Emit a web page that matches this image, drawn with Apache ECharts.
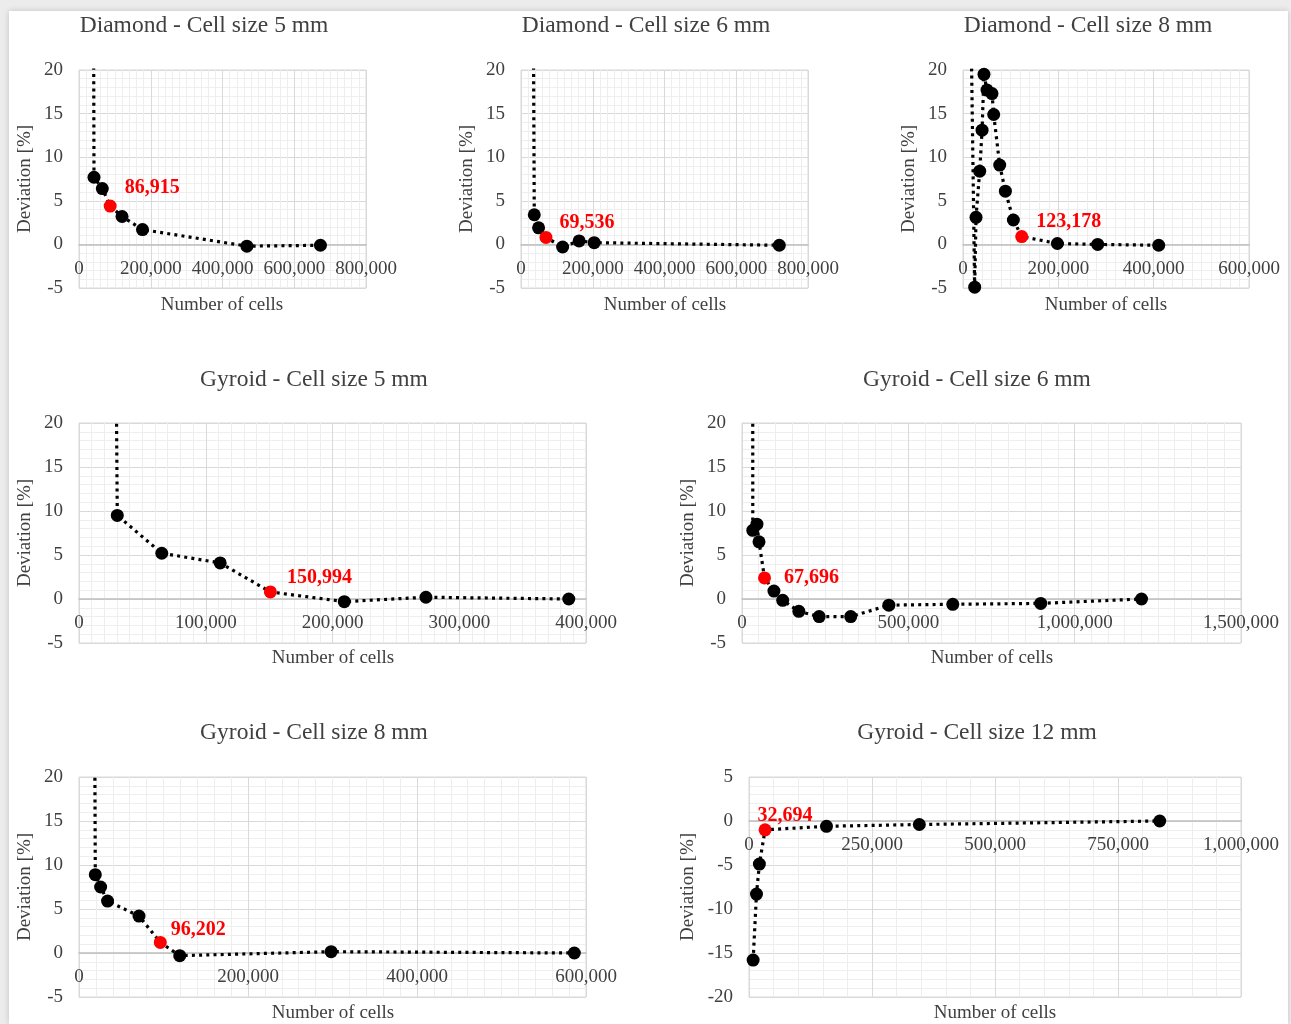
<!DOCTYPE html>
<html>
<head>
<meta charset="utf-8">
<title>Deviation vs number of cells</title>
<script src="https://cdn.jsdelivr.net/npm/echarts@6/dist/echarts.min.js"></script>
<style>
    html, body {
        margin: 0;
        padding: 0;
        background: #ececec;
    }
    .card {
        position: absolute;
        left: 9px;
        top: 11px;
        width: 1279px;
        height: 1013px;
        background: #fff;
        box-shadow: 0 0 6px rgba(0, 0, 0, 0.18);
    }
    #chart {
        position: absolute;
        left: 0;
        top: 0;
        width: 1291px;
        height: 1024px;
    }
</style>
</head>
<body>
<div class="card"></div>
<div id="chart"></div>
<script>
// values: number of cells / deviation [%]
// the first point of most series lies above the plotted range (clipped, only its line shows)
var diamond5Cells = [38500, 41800, 65000, 86915, 120000, 177000, 468000, 673000];
var diamond5Dev = [60, 7.7, 6.4, 4.4, 3.2, 1.7, -0.2, -0.1];
var diamond5Pick = 3;

var diamond6Cells = [30500, 37000, 49000, 69536, 116000, 162000, 204000, 720000];
var diamond6Dev = [60, 3.4, 1.9, 0.8, -0.3, 0.4, 0.2, -0.1];
var diamond6Pick = 3;

var diamond8Cells = [13000, 24500, 27300, 35000, 40000, 44000, 50400, 60800, 64400, 77000, 88900, 105700, 123178, 198000, 282600, 410600];
var diamond8Dev = [40, -4.9, 3.1, 8.4, 13.1, 19.5, 17.7, 17.3, 14.9, 9.1, 6.1, 2.8, 0.9, 0.1, 0, -0.1];
var diamond8Pick = 12;

var gyroid5Cells = [27500, 30200, 65300, 111400, 150994, 209300, 273700, 386400];
var gyroid5Dev = [60, 9.5, 5.2, 4.1, 0.8, -0.3, 0.2, 0];
var gyroid5Pick = 4;

var gyroid6Cells = [32000, 32400, 44900, 51100, 67696, 96000, 122300, 170900, 232000, 326800, 441500, 633600, 898000, 1201000];
var gyroid6Dev = [60, 7.8, 8.5, 6.5, 2.4, 0.9, -0.15, -1.4, -2.0, -2.0, -0.7, -0.6, -0.5, 0];
var gyroid6Pick = 4;

var gyroid8Cells = [17000, 19300, 25600, 33800, 71000, 96202, 119200, 298400, 586200];
var gyroid8Dev = [60, 8.9, 7.5, 5.9, 4.2, 1.2, -0.3, 0.15, 0];
var gyroid8Pick = 5;

var gyroid12Cells = [8400, 15200, 21100, 32694, 157500, 346200, 834800];
var gyroid12Dev = [-15.8, -8.3, -4.9, -1.0, -0.6, -0.4, 0];
var gyroid12Pick = 3;

var titles = [
    'Diamond - Cell size 5 mm', 'Diamond - Cell size 6 mm', 'Diamond - Cell size 8 mm',
    'Gyroid - Cell size 5 mm', 'Gyroid - Cell size 6 mm',
    'Gyroid - Cell size 8 mm', 'Gyroid - Cell size 12 mm'
];
var xName = 'Number of cells';
var yName = 'Deviation [%]';

// layout of each panel: plot box, axis ranges, label offset of the red point
var panels = [
    { cells: diamond5Cells, dev: diamond5Dev, pick: diamond5Pick, box: [79, 70, 287, 218], xMax: 800000, xStep: 200000, xMinor: 10, yMin: -5, yMax: 20, titleX: 204, titleY: 26, xNameX: 222, xNameY: 305, yNameX: 25, labelOffset: [42, -18] },
    { cells: diamond6Cells, dev: diamond6Dev, pick: diamond6Pick, box: [521, 70, 287, 218], xMax: 800000, xStep: 200000, xMinor: 10, yMin: -5, yMax: 20, titleX: 646, titleY: 26, xNameX: 665, xNameY: 305, yNameX: 467, labelOffset: [41, -15] },
    { cells: diamond8Cells, dev: diamond8Dev, pick: diamond8Pick, box: [963, 70, 286, 218], xMax: 600000, xStep: 200000, xMinor: 10, yMin: -5, yMax: 20, titleX: 1088, titleY: 26, xNameX: 1106, xNameY: 305, yNameX: 909, labelOffset: [47, -15] },
    { cells: gyroid5Cells, dev: gyroid5Dev, pick: gyroid5Pick, box: [79, 423, 507, 220], xMax: 400000, xStep: 100000, xMinor: 10, yMin: -5, yMax: 20, titleX: 314, titleY: 380, xNameX: 333, xNameY: 658, yNameX: 25, labelOffset: [49, -14] },
    { cells: gyroid6Cells, dev: gyroid6Dev, pick: gyroid6Pick, box: [742, 423, 499, 220], xMax: 1500000, xStep: 500000, xMinor: 10, yMin: -5, yMax: 20, titleX: 977, titleY: 380, xNameX: 992, xNameY: 658, yNameX: 688, labelOffset: [47, 0] },
    { cells: gyroid8Cells, dev: gyroid8Dev, pick: gyroid8Pick, box: [79, 777, 507, 220], xMax: 600000, xStep: 200000, xMinor: 10, yMin: -5, yMax: 20, titleX: 314, titleY: 733, xNameX: 333, xNameY: 1013, yNameX: 25, labelOffset: [38, -13] },
    { cells: gyroid12Cells, dev: gyroid12Dev, pick: gyroid12Pick, box: [749, 777, 492, 220], xMax: 1000000, xStep: 250000, xMinor: 5, yMin: -20, yMax: 5, titleX: 977, titleY: 733, xNameX: 995, xNameY: 1013, yNameX: 688, labelOffset: [20, -14] }
];

var font = '"Liberation Serif", "Times New Roman", serif';
var textColor = '#404040';

function fmt(v) {
    return Number(v).toLocaleString('en-US');
}

var grids = [], xAxes = [], yAxes = [], series = [], texts = [];

panels.forEach(function (p, i) {
    grids.push({
        left: p.box[0], top: p.box[1], width: p.box[2], height: p.box[3],
        show: true, borderColor: '#d9d9d9', borderWidth: 1
    });
    // x axis (line + labels) crosses at y = 0 like the Excel original:
    // shift the bottom axis up by the height that lies below zero
    var zeroShift = p.box[3] * (0 - p.yMin) / (p.yMax - p.yMin);
    xAxes.push({
        type: 'value', gridIndex: i, min: 0, max: p.xMax, interval: p.xStep,
        position: 'bottom', offset: -zeroShift,
        axisLine: { onZero: false, lineStyle: { color: '#bfbfbf', width: 1.5 } },
        axisTick: { show: false },
        axisLabel: { fontFamily: font, fontSize: 19, color: textColor, margin: 15, formatter: fmt },
        splitLine: { show: true, lineStyle: { color: '#d9d9d9', width: 1 } },
        minorTick: { show: false, splitNumber: p.xMinor },
        minorSplitLine: { show: true, lineStyle: { color: '#eeeeee', width: 1 } }
    });
    yAxes.push({
        type: 'value', gridIndex: i, min: p.yMin, max: p.yMax, interval: 5,
        axisLine: { show: false, onZero: false },
        axisTick: { show: false },
        axisLabel: { fontFamily: font, fontSize: 19, color: textColor, margin: 16 },
        splitLine: { show: true, lineStyle: { color: '#d9d9d9', width: 1 } },
        minorTick: { show: false, splitNumber: 5 },
        minorSplitLine: { show: true, lineStyle: { color: '#eeeeee', width: 1 } }
    });

    var data = p.cells.map(function (c, k) {
        if (k !== p.pick) return [c, p.dev[k]];
        return {
            value: [c, p.dev[k]],
            itemStyle: { color: '#ff0000' },
            label: {
                show: true, position: 'inside', offset: p.labelOffset,
                formatter: function () { return fmt(c); },
                color: '#ff0000', fontWeight: 'bold', fontSize: 20, fontFamily: font
            }
        };
    });
    series.push({
        type: 'line', xAxisIndex: i, yAxisIndex: i, data: data,
        clip: true, symbol: 'circle', symbolSize: 13, showAllSymbol: true,
        itemStyle: { color: '#000' },
        lineStyle: { color: '#000', width: 3.2, type: [3, 4.2], cap: 'butt' },
        z: 3
    });

    texts.push({
        type: 'text', x: p.titleX, y: p.titleY,
        style: { text: titles[i], font: '23.5px ' + font, fill: textColor, textAlign: 'center', textVerticalAlign: 'middle' }
    });
    texts.push({
        type: 'text', x: p.xNameX, y: p.xNameY,
        style: { text: xName, font: '19px ' + font, fill: textColor, textAlign: 'center', textVerticalAlign: 'middle' }
    });
    texts.push({
        type: 'text', x: p.yNameX, y: p.box[1] + p.box[3] / 2, rotation: Math.PI / 2,
        style: { text: yName, font: '19px ' + font, fill: textColor, textAlign: 'center', textVerticalAlign: 'middle' }
    });
});

var chart = echarts.init(document.getElementById('chart'));
chart.setOption({
    animation: false,
    grid: grids,
    xAxis: xAxes,
    yAxis: yAxes,
    series: series,
    graphic: texts
});
</script>
</body>
</html>
